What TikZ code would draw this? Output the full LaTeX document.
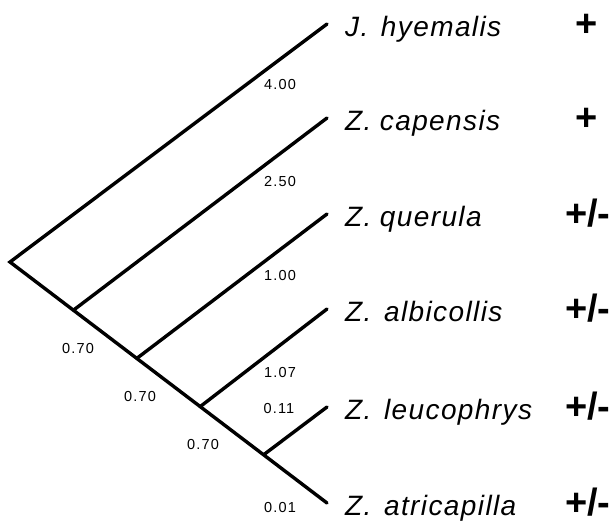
\documentclass[tikz,border=0pt]{standalone}
\usepackage{fontspec}
\setmainfont{Liberation Sans}
\newfontfamily\taxfont[LetterSpace=5]{Liberation Sans}
\newfontfamily\lenfont[LetterSpace=8]{Liberation Sans}
\usetikzlibrary{positioning}

\begin{document}
\begin{tikzpicture}[x=1pt, y=-1pt]
  \tikzset{branch/.style={line width=3.4pt, line cap=round},
    taxon/.style={anchor=base west, inner sep=0pt, font=\taxfont\fontsize{28}{28}\selectfont\itshape},
    sign/.style={anchor=base west, inner sep=0pt, font=\fontsize{38}{38}\selectfont\bfseries},
    len/.style={inner sep=0pt, font=\lenfont\fontsize{14.5}{14.5}\selectfont}}
  \useasboundingbox (0,0) rectangle (616,523);
  % tree
  \coordinate (root) at (10,262);
  \coordinate (j1) at (73.4,310.2);
  \coordinate (j2) at (136.8,358.4);
  \coordinate (j3) at (200.2,406.6);
  \coordinate (j4) at (263.6,454.8);
  \coordinate (hy) at (327,24);
  \coordinate (ca) at (327,118);
  \coordinate (qu) at (327,214);
  \coordinate (al) at (327,309);
  \coordinate (le) at (327,407);
  \coordinate (at) at (327,503);
  \draw[branch] (hy) -- (root) -- (at);
  \draw[branch] (j1) -- (ca);
  \draw[branch] (j2) -- (qu);
  \draw[branch] (j3) -- (al);
  \draw[branch] (j4) -- (le);
  % taxa
  \node[taxon] (hyname) at ([shift={(18,12)}]hy) {J.\hspace{0.45em}hyemalis};
  \node[taxon] (caname) at ([shift={(18,12)}]ca) {Z.\hspace{0.3em}capensis};
  \node[taxon] (quname) at ([shift={(18,12)}]qu) {Z.\hspace{0.3em}querula};
  \node[taxon] (alname) at ([shift={(18,12)}]al) {Z.\hspace{0.45em}albicollis};
  \node[taxon] (lename) at ([shift={(18,12)}]le) {Z.\hspace{0.45em}leucophrys};
  \node[taxon] (atname) at ([shift={(18,12)}]at) {Z.\hspace{0.45em}atricapilla};
  \node[sign, anchor=base] (hysign) at ([shift={(260,12)}]hy) {+};
  \node[sign, anchor=base] (casign) at ([shift={(260,12)}]ca) {+};
  \node[sign] (qusign) at ([shift={(238,12)}]qu) {+/-};
  \node[sign] (alsign) at ([shift={(238,12)}]al) {+/-};
  \node[sign] (lesign) at ([shift={(238,12)}]le) {+/-};
  \node[sign] (atsign) at ([shift={(238,12)}]at) {+/-};
  % branch lengths
  \node[len] (l1) at (280,85) {4.00};
  \node[len] (l2) at (280,182) {2.50};
  \node[len] (l3) at (280,276) {1.00};
  \node[len] (l4) at (280,373) {1.07};
  \node[len] (l5) at (279,409) {0.11};
  \node[len] (l6) at (280,507) {0.01};
  \node[len] (l7) at (78,349) {0.70};
  \node[len] (l8) at (140,397) {0.70};
  \node[len] (l9) at (203,444) {0.70};
\end{tikzpicture}
\end{document}
